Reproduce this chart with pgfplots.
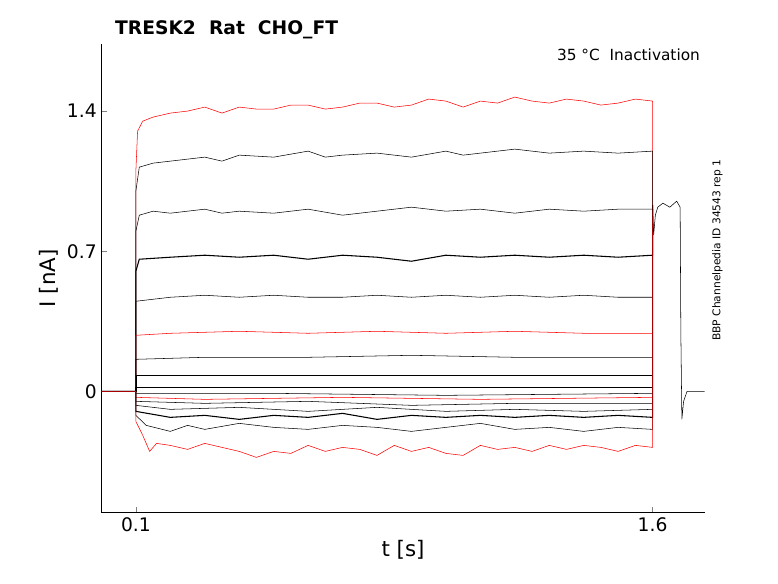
\documentclass[border=0pt]{standalone}
\usepackage{pgfplots}
\pgfplotsset{compat=1.18}
\usepackage{fontspec}
\setmainfont{DejaVu Sans}
\begin{document}
\begin{tikzpicture}
\begin{axis}[
  scale only axis, width=452pt, height=351pt,
  xmin=0, xmax=1.751, ymin=-0.605, ymax=1.735,
  axis x line*=bottom, axis y line*=left,
  xtick={0.1,1.6}, ytick={0,0.7,1.4},
  xticklabels={0.1,1.6}, yticklabels={0,0.7,1.4},
  tick align=inside, major tick length=4pt,
  tick label style={font=\fontsize{14}{16}\selectfont},
  xlabel={t [s]}, ylabel={I [nA]},
  label style={font=\fontsize{16}{18}\selectfont},
  cycle list={{red,solid,no markers,line width=0.8pt,line join=round}},
  clip=false,
]
\addplot coordinates {(0,0)(0.1,0)(0.1,1.1)(0.105,1.3)(0.12,1.35)(0.15,1.37)(0.2,1.39)(0.25,1.4)(0.3,1.42)(0.35,1.39)(0.4,1.42)(0.45,1.41)(0.5,1.41)(0.55,1.43)(0.6,1.43)(0.65,1.41)(0.7,1.42)(0.75,1.44)(0.8,1.44)(0.85,1.42)(0.9,1.43)(0.95,1.46)(1.0,1.45)(1.05,1.42)(1.1,1.45)(1.15,1.44)(1.2,1.47)(1.25,1.45)(1.3,1.44)(1.35,1.46)(1.4,1.45)(1.45,1.43)(1.5,1.44)(1.55,1.46)(1.6,1.45)(1.6,0.93)};
\addplot coordinates {(0,0)(0.1,0)(0.1,1.0)(0.11,1.12)(0.15,1.14)(0.2,1.15)(0.3,1.17)(0.35,1.15)(0.4,1.18)(0.5,1.17)(0.6,1.2)(0.65,1.17)(0.7,1.18)(0.8,1.19)(0.9,1.17)(1.0,1.2)(1.05,1.18)(1.1,1.19)(1.2,1.21)(1.3,1.19)(1.4,1.2)(1.5,1.19)(1.6,1.2)(1.6,0.93)};
\addplot coordinates {(0,0)(0.1,0)(0.1,0.8)(0.11,0.88)(0.15,0.9)(0.2,0.89)(0.3,0.91)(0.35,0.89)(0.4,0.9)(0.5,0.89)(0.6,0.91)(0.7,0.88)(0.8,0.9)(0.9,0.92)(1.0,0.9)(1.1,0.91)(1.2,0.89)(1.3,0.91)(1.4,0.9)(1.5,0.91)(1.6,0.91)(1.6,0.93)};
\addplot coordinates {(0,0)(0.1,0)(0.1,0.6)(0.11,0.66)(0.2,0.67)(0.3,0.68)(0.4,0.67)(0.5,0.68)(0.6,0.66)(0.7,0.68)(0.8,0.67)(0.9,0.65)(1.0,0.68)(1.1,0.67)(1.2,0.68)(1.3,0.67)(1.4,0.68)(1.5,0.67)(1.6,0.68)(1.6,0.93)};
\addplot coordinates {(0,0)(0.1,0)(0.1,0.45)(0.2,0.47)(0.3,0.48)(0.4,0.47)(0.5,0.48)(0.6,0.47)(0.7,0.47)(0.8,0.48)(0.9,0.47)(1.0,0.48)(1.1,0.47)(1.2,0.48)(1.3,0.47)(1.4,0.48)(1.5,0.47)(1.6,0.47)(1.6,0.93)};
\addplot coordinates {(0,0)(0.1,0)(0.1,0.28)(0.2,0.29)(0.4,0.3)(0.6,0.29)(0.8,0.3)(1.0,0.29)(1.2,0.3)(1.4,0.29)(1.6,0.29)(1.6,0.93)};
\addplot coordinates {(0,0)(0.1,0)(0.1,0.16)(0.3,0.17)(0.6,0.17)(0.9,0.18)(1.2,0.17)(1.6,0.17)(1.6,0.93)};
\addplot coordinates {(0,0)(0.1,0)(0.1,0.08)(0.4,0.08)(0.8,0.08)(1.2,0.08)(1.6,0.08)(1.6,0.93)};
\addplot coordinates {(0,0)(0.1,0)(0.1,0.02)(0.5,0.02)(1.0,0.02)(1.6,0.02)(1.6,0.93)};
\addplot coordinates {(0,0)(0.1,0)(0.1,-0.01)(0.5,-0.01)(1.0,-0.02)(1.6,-0.01)(1.6,0.93)};
\addplot coordinates {(0,0)(0.1,0)(0.1,-0.03)(0.3,-0.04)(0.7,-0.03)(1.1,-0.04)(1.6,-0.03)(1.6,0.93)};
\addplot coordinates {(0,0)(0.1,0)(0.1,-0.05)(0.3,-0.06)(0.6,-0.05)(0.9,-0.07)(1.2,-0.06)(1.6,-0.06)(1.6,0.93)};
\addplot coordinates {(0,0)(0.1,0)(0.1,-0.07)(0.2,-0.09)(0.4,-0.08)(0.6,-0.1)(0.8,-0.08)(1.0,-0.1)(1.2,-0.09)(1.4,-0.1)(1.6,-0.09)(1.6,0.93)};
\addplot coordinates {(0,0)(0.1,0)(0.1,-0.1)(0.2,-0.13)(0.3,-0.12)(0.4,-0.14)(0.5,-0.12)(0.6,-0.13)(0.7,-0.11)(0.8,-0.14)(0.9,-0.12)(1.0,-0.13)(1.1,-0.12)(1.2,-0.13)(1.3,-0.12)(1.4,-0.13)(1.5,-0.12)(1.6,-0.13)(1.6,0.93)};
\addplot coordinates {(0,0)(0.1,0)(0.1,-0.12)(0.13,-0.17)(0.2,-0.2)(0.25,-0.17)(0.3,-0.19)(0.4,-0.16)(0.5,-0.18)(0.6,-0.19)(0.7,-0.17)(0.8,-0.18)(0.9,-0.2)(1.0,-0.18)(1.1,-0.16)(1.2,-0.19)(1.3,-0.18)(1.4,-0.2)(1.5,-0.18)(1.6,-0.19)(1.6,0.93)};
\addplot coordinates {(0,0)(0.1,0)(0.1,-0.15)(0.12,-0.22)(0.14,-0.3)(0.16,-0.26)(0.2,-0.27)(0.25,-0.29)(0.3,-0.26)(0.35,-0.28)(0.4,-0.3)(0.45,-0.33)(0.5,-0.3)(0.55,-0.31)(0.6,-0.27)(0.65,-0.3)(0.7,-0.28)(0.75,-0.29)(0.8,-0.32)(0.85,-0.27)(0.9,-0.3)(0.95,-0.28)(1.0,-0.31)(1.05,-0.32)(1.1,-0.27)(1.15,-0.29)(1.2,-0.28)(1.25,-0.3)(1.3,-0.27)(1.35,-0.29)(1.4,-0.27)(1.45,-0.28)(1.5,-0.3)(1.55,-0.27)(1.6,-0.28)(1.6,0.93)};
\addplot coordinates {(1.6,0.93)(1.603,0.78)(1.608,0.88)(1.615,0.92)(1.63,0.94)(1.65,0.92)(1.67,0.95)(1.68,0.92)(1.682,0.3)(1.685,-0.14)(1.69,-0.05)(1.7,0)(1.751,0)};
\node[anchor=south west, font=\bfseries\fontsize{14}{16}\selectfont] at (rel axis cs:0.015,1.0) {TRESK2\ \ Rat\ \ CHO\_FT};
\node[anchor=north east, font=\fontsize{11.5}{13}\selectfont] at (rel axis cs:1.0,1.0) {35 °C\ \ Inactivation};
\node[rotate=90, anchor=north, font=\fontsize{8}{10}\selectfont] at (rel axis cs:1.005,0.56) {BBP Channelpedia ID 34543 rep 1};
\end{axis}
\path (current axis.south west) ++(-76pt,-53pt) (current axis.north east) ++(55pt,33pt);
\end{tikzpicture}
\end{document}
